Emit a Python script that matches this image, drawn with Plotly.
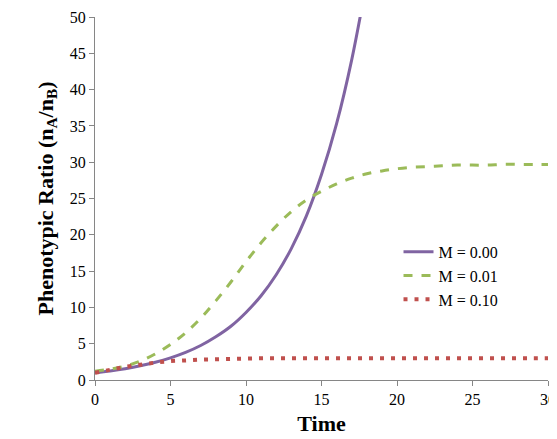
import plotly.graph_objects as go

time = list(range(0, 31))
m000 = [1.0,1.25,1.56,1.95,2.44,3.05,3.8,4.75,5.95,7.4,9.3,11.6,14.5,18.1,22.6,28.3,35.3,44.1,55.0]
m001 = [1.2,1.5,1.9,2.6,3.6,4.9,6.5,8.5,10.9,13.5,16.3,18.9,21.2,23.2,24.8,26.0,27.0,27.8,28.4,28.8,29.1,29.3,29.4,29.5,29.6,29.6,29.6,29.7,29.7,29.7,29.7]
m010 = [1.0,1.4,1.8,2.1,2.4,2.6,2.7,2.8,2.85,2.9,2.95]+[3.0]*20

SERIF = "Liberation Serif, Times New Roman, serif"

fig = go.Figure()
fig.add_trace(go.Scatter(x=time[:len(m000)], y=m000, mode="lines", name="M = 0.00",
                         line=dict(color="#8064A2", width=3), line_shape="spline"))
fig.add_trace(go.Scatter(x=time, y=m001, mode="lines", name="M = 0.01",
                         line=dict(color="#9BBB59", width=3, dash="dash"), line_shape="spline"))
fig.add_trace(go.Scatter(x=time, y=m010, mode="lines", name="M = 0.10",
                         line=dict(color="#C0504D", width=4, dash="4px,7px"), line_shape="spline"))

axis_common = dict(showgrid=False, zeroline=False, showline=True, linecolor="#868686",
                   ticks="outside", tickcolor="#868686", ticklen=5, automargin=False,
                   tickfont=dict(family=SERIF, size=16, color="black"))
fig.update_layout(
    width=557, height=439, plot_bgcolor="white", paper_bgcolor="white",
    font=dict(family=SERIF, size=16, color="black"),
    margin=dict(l=87, r=17, t=9, b=67, autoexpand=False),
    xaxis=dict(range=[0, 30], dtick=5, title=dict(text="<b>Time</b>", standoff=8,
               font=dict(family=SERIF, size=22, color="black")), **axis_common),
    yaxis=dict(range=[0, 50], dtick=5, title=dict(text="<b>Phenotypic Ratio (n<sub>A</sub>/n<sub>B</sub>)</b>", standoff=10,
               font=dict(family=SERIF, size=22, color="black")), **axis_common),
    legend=dict(x=0.67, y=0.40, xanchor="left", yanchor="top", bgcolor="rgba(0,0,0,0)",
                font=dict(family=SERIF, size=16, color="black"), tracegroupgap=0),
)
fig.write_html("out.html")
